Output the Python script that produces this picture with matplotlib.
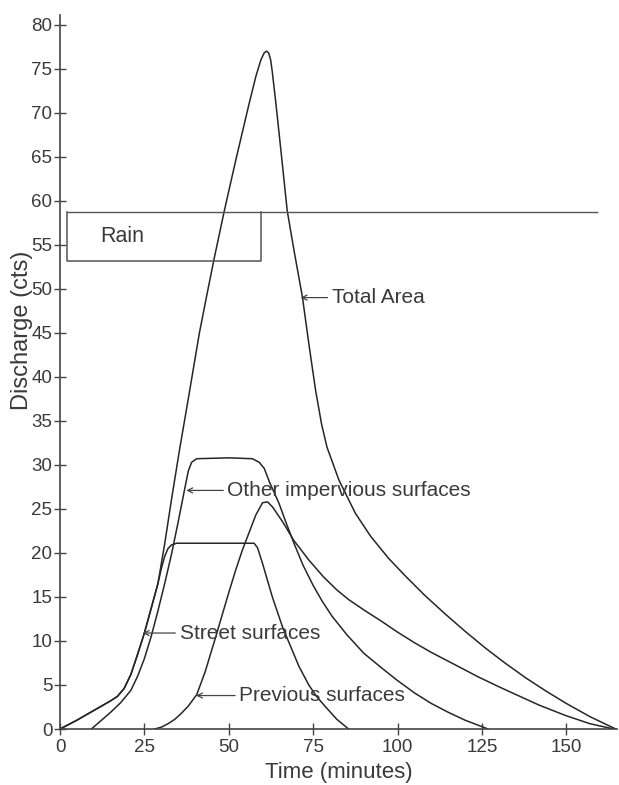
import matplotlib.pyplot as plt

# ---- data (time in minutes, discharge in cfs) ----
street_t = [0, 5, 10, 15, 17, 19, 21, 23, 25, 27, 29, 30, 31, 32, 33, 34.5,
            45, 57.5, 58.5, 60, 62.9, 66, 70.8, 73.7, 76, 78.7, 82, 85.5]
street_q = [0, 1.0, 2.1, 3.2, 3.7, 4.6, 6.2, 8.5, 10.9, 13.7, 16.5, 18.2,
            19.6, 20.5, 20.9, 21.1, 21.1, 21.1, 20.6, 18.8, 15.0, 11.5, 7.1,
            5.0, 3.7, 2.5, 1.1, 0]

other_t = [9.3, 12, 15, 18, 21, 23, 25, 27, 29, 31, 33, 35, 36.9, 38, 39,
           40.5, 50, 57, 59, 60.5, 62, 64.9, 67, 69.3, 72, 75, 77.7, 80.6,
           85, 90, 95.4, 100, 105, 110, 115, 120, 126.8]
other_q = [0, 0.9, 1.9, 3.0, 4.4, 6.0, 8.0, 10.5, 13.4, 16.5, 19.8, 23.5,
           27.2, 29.3, 30.3, 30.7, 30.8, 30.7, 30.3, 29.6, 28.1, 25.6, 23.4,
           21.1, 18.6, 16.3, 14.5, 12.8, 10.7, 8.6, 6.9, 5.5, 4.1, 2.9, 1.9,
           1.0, 0]

pervious_t = [28, 30, 32, 34, 36, 38, 40.5, 43, 46, 48, 50, 52, 54, 56, 58,
              60, 61.5, 63, 66, 69.3, 73.7, 78, 82, 85.5, 90.5, 95, 100, 105,
              110, 117, 124, 130, 135.7, 142, 150, 157, 164]
pervious_q = [0, 0.2, 0.6, 1.1, 1.8, 2.6, 3.9, 6.5, 10.3, 12.9, 15.5, 18.0,
              20.3, 22.3, 24.3, 25.7, 25.8, 25.2, 23.5, 21.4, 19.2, 17.3,
              15.8, 14.7, 13.4, 12.3, 11.0, 9.8, 8.7, 7.3, 5.9, 4.8, 3.8,
              2.7, 1.5, 0.6, 0]

total_t = [0, 5, 10, 15, 17, 19, 21, 23, 25, 27, 29, 31, 33, 35.4, 38, 41.3,
           43.5, 45.7, 48.7, 52, 56, 58, 59.5, 60.5, 61.2, 61.8, 62.4, 62.9,
           64, 65.5, 67.3, 69.3, 71.8, 73.7, 75.7, 77.5, 79.1, 82.6, 87.5,
           92, 97.3, 102, 108, 114, 120, 126, 131.8, 138, 144, 150, 157,
           164.6]
total_q = [0, 1.0, 2.1, 3.2, 3.7, 4.6, 6.2, 8.5, 10.9, 13.7, 16.5, 21.0, 26.0,
           31.7, 37.5, 45.0, 49.3, 53.5, 58.9, 64.5, 71.0, 74.1, 76.0, 76.8,
           77.0, 76.8, 76.0, 74.6, 70.9, 65.5, 58.9, 54.4, 49.1, 43.8, 38.5,
           34.6, 32.0, 28.3, 24.5, 21.9, 19.4, 17.5, 15.2, 13.1, 11.1, 9.2,
           7.5, 5.8, 4.3, 2.9, 1.4, 0]

# rain block: start, end, bottom, top, and how far the top line runs
rain_t = [2, 59.5]
rain_q = [53.2, 58.75]
rain_line_end = 159

x_ticks = [0, 25, 50, 75, 100, 125, 150]
y_ticks = list(range(0, 85, 5))

# label text, arrow tip (t, q), text left edge (t)
labels = [
    ("Total Area", (71.3, 49.0), 80.5),
    ("Other impervious surfaces", (37.4, 27.1), 49.6),
    ("Street surfaces", (24.5, 10.9), 35.4),
    ("Previous surfaces", (40.3, 3.8), 53.1),
]

# ---- figure ----
plt.rcParams["font.family"] = ["Liberation Sans", "DejaVu Sans"]
ink = "#262626"
txt = "#3a3a3a"

fig = plt.figure(figsize=(6.19, 7.85), dpi=100)
ax = fig.add_axes([60 / 619, 1 - 729 / 785, 557 / 619, 714 / 785])

for t, q in [(total_t, total_q), (street_t, street_q),
             (other_t, other_q), (pervious_t, pervious_q)]:
    ax.plot(t, q, color=ink, lw=1.1, solid_joinstyle="round")

# rain hyetograph box
ax.plot([rain_t[0], rain_t[0], rain_t[1], rain_t[1]],
        [rain_q[1], rain_q[0], rain_q[0], rain_q[1]], color="#555555", lw=1.1)
ax.plot([rain_t[0], rain_line_end], [rain_q[1], rain_q[1]],
        color="#555555", lw=1.0)
ax.text(11.8, sum(rain_q) / 2, "Rain", fontsize=15.5, color=txt,
        ha="left", va="center")

for name, tip, left in labels:
    ax.annotate(name, xy=tip, xytext=(left, tip[1]), fontsize=15, color=txt,
                ha="left", va="center",
                arrowprops=dict(arrowstyle="->", color="#444444", lw=0.9,
                                shrinkA=1, shrinkB=0,
                                mutation_scale=9))

ax.set_xlim(0, 165)
ax.set_ylim(0, 81.1)
ax.set_xticks(x_ticks)
ax.set_yticks(y_ticks)
ax.spines["top"].set_visible(False)
ax.spines["right"].set_visible(False)
for s in ("left", "bottom"):
    ax.spines[s].set_color("#444444")
    ax.spines[s].set_linewidth(1.2)
ax.tick_params(direction="inout", length=9, width=1.0, color="#444444",
               labelsize=13.5, labelcolor=txt)
ax.tick_params(axis="x", pad=3)
ax.tick_params(axis="y", pad=1)

ax.set_xlabel("Time (minutes)", fontsize=16, color=txt, labelpad=4)
ax.set_ylabel("Discharge (cts)", fontsize=17, color=txt)
ax.yaxis.set_label_coords(-0.048, 0.558)

fig.savefig("out.png", dpi=100)
